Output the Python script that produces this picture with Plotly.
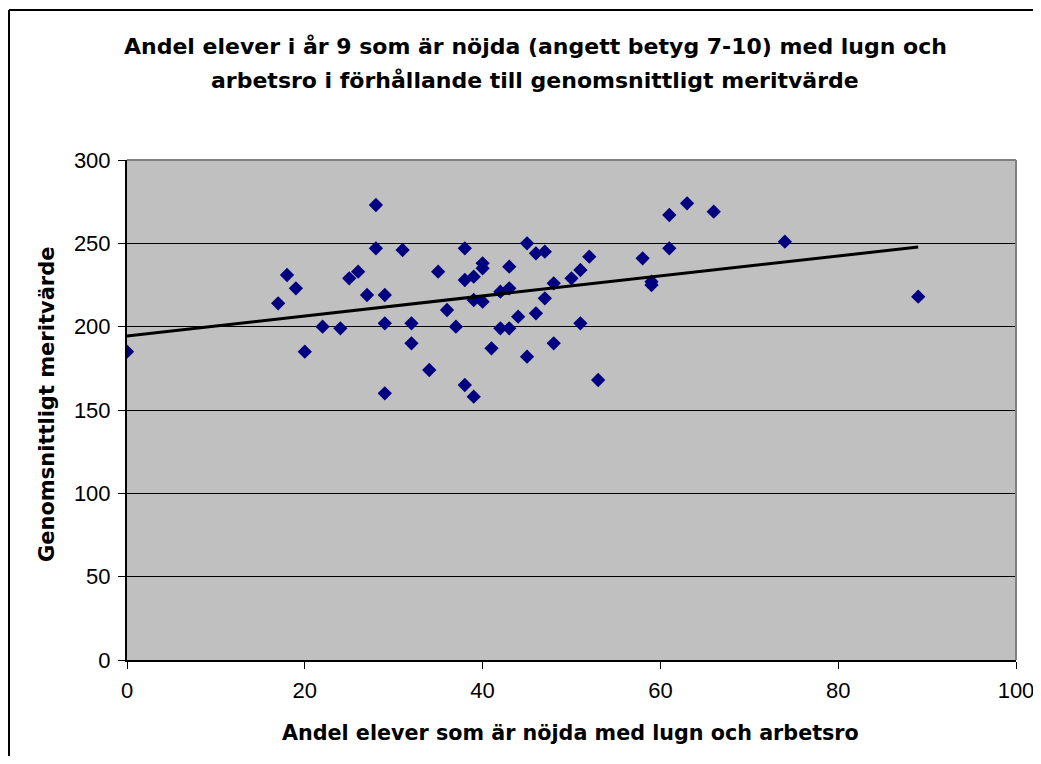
import numpy as np
import plotly.graph_objects as go

# Andel elever som är nöjda med lugn och arbetsro (%)
andel_nojda = [0, 28, 28, 31, 18, 19, 17, 26, 25, 27,
               29, 22, 24, 29, 32, 32, 20, 29, 34, 38,
               35, 40, 40, 38, 39, 43, 45, 46, 47, 52,
               51, 50, 48, 43, 42, 39, 40, 47, 36, 44,
               46, 37, 42, 43, 51, 41, 48, 45, 38, 39,
               53, 58, 59, 59, 61, 61, 63, 66, 74, 89]
# Genomsnittligt meritvärde
meritvarde = [185, 273, 247, 246, 231, 223, 214, 233, 229, 219,
              219, 200, 199, 202, 202, 190, 185, 160, 174, 247,
              233, 238, 235, 228, 230, 236, 250, 244, 245, 242,
              234, 229, 226, 223, 221, 216, 215, 217, 210, 206,
              208, 200, 199, 199, 202, 187, 190, 182, 165, 158,
              168, 241, 227, 225, 267, 247, 274, 269, 251, 218]

x_ticks = [0, 20, 40, 60, 80, 100]
y_ticks = [0, 50, 100, 150, 200, 250, 300]

title_lines = ["Andel elever i år 9 som är nöjda (angett betyg 7-10) med lugn och",
               "arbetsro i förhållande till genomsnittligt meritvärde"]
x_title = "Andel elever som är nöjda med lugn och arbetsro"
y_title = "Genomsnittligt meritvärde"

FONT = "Liberation Sans, Arial, sans-serif"
BFONT = "DejaVu Sans, Verdana, sans-serif"

xs = np.array(andel_nojda, dtype=float)
ys = np.array(meritvarde, dtype=float)
slope, intercept = np.polyfit(xs, ys, 1)
tx = np.array([xs.min(), xs.max()])
ty = intercept + slope * tx

fig = go.Figure()
fig.add_trace(go.Scatter(x=andel_nojda, y=meritvarde, mode="markers",
                         marker=dict(symbol="diamond", size=11, color="#000080",
                                     line=dict(width=0)),
                         showlegend=False))
fig.add_trace(go.Scatter(x=tx, y=ty, mode="lines",
                         line=dict(color="black", width=3),
                         showlegend=False))

OFF = 8  # page body margin
W, H = 1041 - 2 * OFF, 764 - 2 * OFF
# plot area in page pixels
PL, PR, PT, PB = 127, 1016, 160, 660
L, R, T, B = PL - OFF, PR - OFF, PT - OFF, PB - OFF


def px(xp):  # page x -> paper
    return (xp - PL) / (PR - PL)


def py(yp):  # page y -> paper
    return (PB - yp) / (PB - PT)


annotations = [
    dict(text=f"<b>{title_lines[0]}</b>", x=px(535), y=py(46), xref="paper", yref="paper",
         showarrow=False, xanchor="center", yanchor="middle",
         font=dict(family=BFONT, size=22, color="black")),
    dict(text=f"<b>{title_lines[1]}</b>", x=px(535), y=py(80), xref="paper", yref="paper",
         showarrow=False, xanchor="center", yanchor="middle",
         font=dict(family=BFONT, size=22, color="black")),
    dict(text=f"<b>{x_title}</b>", x=px(570), y=py(733), xref="paper", yref="paper",
         showarrow=False, xanchor="center", yanchor="middle",
         font=dict(family=BFONT, size=20.7, color="black")),
    dict(text=f"<b>{y_title}</b>", x=px(47), y=py(405), xref="paper", yref="paper",
         showarrow=False, xanchor="center", yanchor="middle", textangle=-90,
         font=dict(family=BFONT, size=21, color="black")),
]

shapes = [
    # outer chart border (top and left edges; the rest lies outside the view)
    dict(type="line", xref="paper", yref="paper",
         x0=px(9), x1=px(1080), y0=py(10), y1=py(10),
         line=dict(color="black", width=2), layer="below"),
    dict(type="line", xref="paper", yref="paper",
         x0=px(9), x1=px(9), y0=py(10), y1=py(800),
         line=dict(color="black", width=2), layer="below"),
    # grey plot-area top and right edges
    dict(type="line", xref="paper", yref="paper", x0=0, x1=1, y0=1, y1=1,
         line=dict(color="#808080", width=2)),
    dict(type="line", xref="paper", yref="paper", x0=1, x1=1, y0=0, y1=1,
         line=dict(color="#808080", width=2)),
]

fig.update_layout(
    width=W, height=H,
    margin=dict(l=L, r=W - R, t=T, b=H - B, autoexpand=False),
    paper_bgcolor="white", plot_bgcolor="#C0C0C0",
    font=dict(family=FONT, size=22, color="black"),
    annotations=annotations, shapes=shapes,
    showlegend=False,
)
fig.update_xaxes(range=[0, 100], tickvals=x_ticks, ticks="outside", ticklen=7,
                 tickcolor="black", tickwidth=1, showgrid=False, zeroline=False,
                 showline=True, linecolor="black", linewidth=2,
                 automargin=False,
                 ticklabelstandoff=3, ticklabeloverflow="allow",
                 tickfont=dict(family=FONT, size=22, color="black"))
fig.update_yaxes(range=[0, 300], tickvals=y_ticks, ticks="outside", ticklen=7,
                 tickcolor="black", tickwidth=1, showgrid=True, gridcolor="black",
                 gridwidth=1, zeroline=False,
                 showline=True, linecolor="black", linewidth=2,
                 automargin=False,
                 ticklabelstandoff=3,
                 tickfont=dict(family=FONT, size=22, color="black"))

fig.write_html("out.html")
